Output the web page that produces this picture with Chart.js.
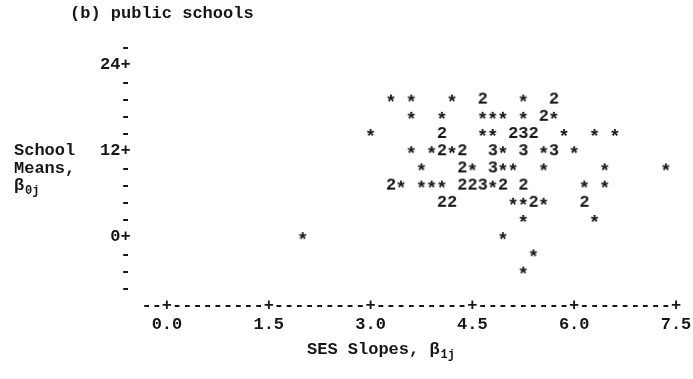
<!DOCTYPE html>
<html lang="en">
<head>
    <meta charset="UTF-8">
    <title>public schools</title>
    <script src="https://cdn.jsdelivr.net/npm/chart.js@4"></script>
    <style>
        body {
            margin: 0;
            background: #ffffff;
        }
        .wrap {
            width: 693px;
            height: 379px;
            position: relative;
        }
    </style>
</head>
<body>
    <div class="wrap">
        <canvas id="grafico"></canvas>
    </div>

    <script>
        // one entry per printed cell: slope, mean, and how many schools share the cell
        const slopes = [
            3.3, 3.6, 4.2, 4.65, 5.25, 5.7,                                   // row 19.2
            3.6, 4.05, 4.65, 4.8, 4.95, 5.25, 5.55, 5.7,                      // row 16.8
            3.0, 4.05, 4.65, 4.8, 5.1, 5.25, 5.4, 5.85, 6.3, 6.6,             // row 14.4
            3.6, 3.9, 4.05, 4.2, 4.35, 4.8, 4.95, 5.25, 5.55, 5.7, 6.0,       // row 12
            3.75, 4.35, 4.5, 4.8, 4.95, 5.1, 5.55, 6.45, 7.35,                // row 9.6
            3.3, 3.45, 3.75, 3.9, 4.05, 4.35, 4.5, 4.65, 4.8, 4.95, 5.25, 6.15, 6.45, // row 7.2
            4.05, 4.2, 5.1, 5.25, 5.4, 5.55, 6.15,                            // row 4.8
            5.25, 6.3,                                                        // row 2.4
            2.0, 4.95,                                                        // row 0
            5.4,                                                              // row -2.4
            5.25                                                              // row -4.8
        ];
        const means = [
            19.2, 19.2, 19.2, 19.2, 19.2, 19.2,
            16.8, 16.8, 16.8, 16.8, 16.8, 16.8, 16.8, 16.8,
            14.4, 14.4, 14.4, 14.4, 14.4, 14.4, 14.4, 14.4, 14.4, 14.4,
            12, 12, 12, 12, 12, 12, 12, 12, 12, 12, 12,
            9.6, 9.6, 9.6, 9.6, 9.6, 9.6, 9.6, 9.6, 9.6,
            7.2, 7.2, 7.2, 7.2, 7.2, 7.2, 7.2, 7.2, 7.2, 7.2, 7.2, 7.2, 7.2,
            4.8, 4.8, 4.8, 4.8, 4.8, 4.8, 4.8,
            2.4, 2.4,
            0, 0,
            -2.4,
            -4.8
        ];
        const counts = [
            1, 1, 1, 2, 1, 2,
            1, 1, 1, 1, 1, 1, 2, 1,
            1, 2, 1, 1, 2, 3, 2, 1, 1, 1,
            1, 1, 2, 1, 2, 3, 1, 3, 1, 3, 1,
            1, 2, 1, 3, 1, 1, 1, 1, 1,
            2, 1, 1, 1, 1, 2, 2, 3, 1, 2, 2, 1, 1,
            2, 2, 1, 1, 2, 1, 2,
            1, 1,
            1, 1,
            1,
            1
        ];

        const xTicks = [0, 1.5, 3.0, 4.5, 6.0, 7.5];
        const xTickLabels = ['0.0', '1.5', '3.0', '4.5', '6.0', '7.5'];
        const yTicks = [-7.2, -4.8, -2.4, 0, 2.4, 4.8, 7.2, 9.6, 12, 14.4, 16.8, 19.2, 21.6, 24, 26.4];
        const yTickLabels = ['-', '-', '-', '0+', '-', '-', '-', '-', '12+', '-', '-', '-', '-', '24+', '-'];

        const FUENTE = '"Liberation Mono", "Courier New", monospace';
        const TINTA = '#161616';
        const PASO = 0.15;   // width of one printer column in slope units

        // little canvases used as point styles: '*' for one school, digits for more
        const glifos = {};
        function glifo(n) {
            const ch = n > 1 ? String(n) : '*';
            if (!glifos[ch]) {
                const c = document.createElement('canvas');
                c.width = 14;
                c.height = 20;
                const g = c.getContext('2d');
                g.fillStyle = TINTA;
                g.textAlign = 'center';
                g.textBaseline = 'middle';
                if (ch === '*') {
                    // the printer star sits lower and a bit larger than the font's asterisk
                    g.font = 'bold 19px ' + FUENTE;
                    g.fillText(ch, 7, 13);
                } else {
                    g.font = 'bold 17px ' + FUENTE;
                    g.fillText(ch, 7, 10);
                }
                glifos[ch] = c;
            }
            return glifos[ch];
        }

        // axis line, titles and the left-hand label, drawn as printer text
        const textoImpresora = {
            id: 'textoImpresora',
            afterDraw(chart) {
                const { ctx, scales: { x, y } } = chart;
                ctx.save();
                ctx.fillStyle = TINTA;
                ctx.font = 'bold 17px ' + FUENTE;
                ctx.textBaseline = 'middle';

                // --+----------+---- ... along the bottom
                ctx.textAlign = 'center';
                const yEje = y.getPixelForValue(y.min);
                const desde = Math.round(x.min / PASO);
                const hasta = Math.round(x.max / PASO);
                for (let k = desde; k <= hasta; k++) {
                    const v = k * PASO;
                    const esTick = xTicks.some(t => Math.abs(t - v) < 1e-6);
                    ctx.fillText(esTick ? '+' : '-', x.getPixelForValue(v), yEje);
                }

                ctx.textAlign = 'left';
                ctx.fillText('(b) public schools', 70, 14);

                // y label sits on the 12, 9.6 and 7.2 print rows
                const izq = 14;
                ctx.fillText('School', izq, y.getPixelForValue(12));
                ctx.fillText('Means,', izq, y.getPixelForValue(9.6));
                const yb = y.getPixelForValue(7.2);
                ctx.fillText('\u03B2', izq, yb);
                ctx.font = 'bold 12px ' + FUENTE;
                ctx.fillText('0j', izq + 11, yb + 5);

                // x label under the tick numbers
                ctx.font = 'bold 17px ' + FUENTE;
                const xt = 'SES Slopes, \u03B2';
                const yt = 350;
                ctx.fillText(xt, 307, yt);
                const ancho = ctx.measureText(xt).width;
                ctx.font = 'bold 12px ' + FUENTE;
                ctx.fillText('1j', 307 + ancho + 1, yt + 5);
                ctx.restore();
            }
        };

        const fuenteTicks = { family: FUENTE, size: 17, weight: 'bold', lineHeight: 1 };

        new Chart(document.getElementById('grafico'), {
            type: 'scatter',
            data: {
                datasets: [{
                    data: slopes.map((s, i) => ({ x: s, y: means[i] })),
                    pointStyle: ctx => glifo(counts[ctx.dataIndex]),
                    pointRadius: 6,
                    pointHoverRadius: 6
                }]
            },
            options: {
                responsive: true,
                maintainAspectRatio: false,
                animation: false,
                events: [],
                layout: {
                    padding: { left: 100, right: 17, top: 48, bottom: 43 }
                },
                plugins: {
                    legend: { display: false },
                    tooltip: { enabled: false }
                },
                scales: {
                    x: {
                        type: 'linear',
                        min: -0.3,
                        max: 7.5,
                        afterBuildTicks: s => { s.ticks = xTicks.map(v => ({ value: v })); },
                        afterFit: s => {
                            s.height = 30;
                            s.paddingLeft = 0;
                            s.paddingRight = 0;
                        },
                        grid: { display: false, drawTicks: false },
                        border: { display: false },
                        ticks: {
                            padding: 10,
                            color: TINTA,
                            font: fuenteTicks,
                            autoSkip: false,
                            maxRotation: 0,
                            callback: (v, i) => xTickLabels[i]
                        }
                    },
                    y: {
                        min: -9.6,
                        max: 26.4,
                        afterBuildTicks: s => { s.ticks = yTicks.map(v => ({ value: v })); },
                        afterFit: s => {
                            s.width = 46.6;
                            s.paddingTop = 0;
                            s.paddingBottom = 0;
                        },
                        grid: { display: false, drawTicks: false },
                        border: { display: false },
                        ticks: {
                            padding: 16,
                            color: TINTA,
                            font: fuenteTicks,
                            autoSkip: false,
                            callback: (v, i) => yTickLabels[i]
                        }
                    }
                }
            },
            plugins: [textoImpresora]
        });
    </script>
</body>
</html>
